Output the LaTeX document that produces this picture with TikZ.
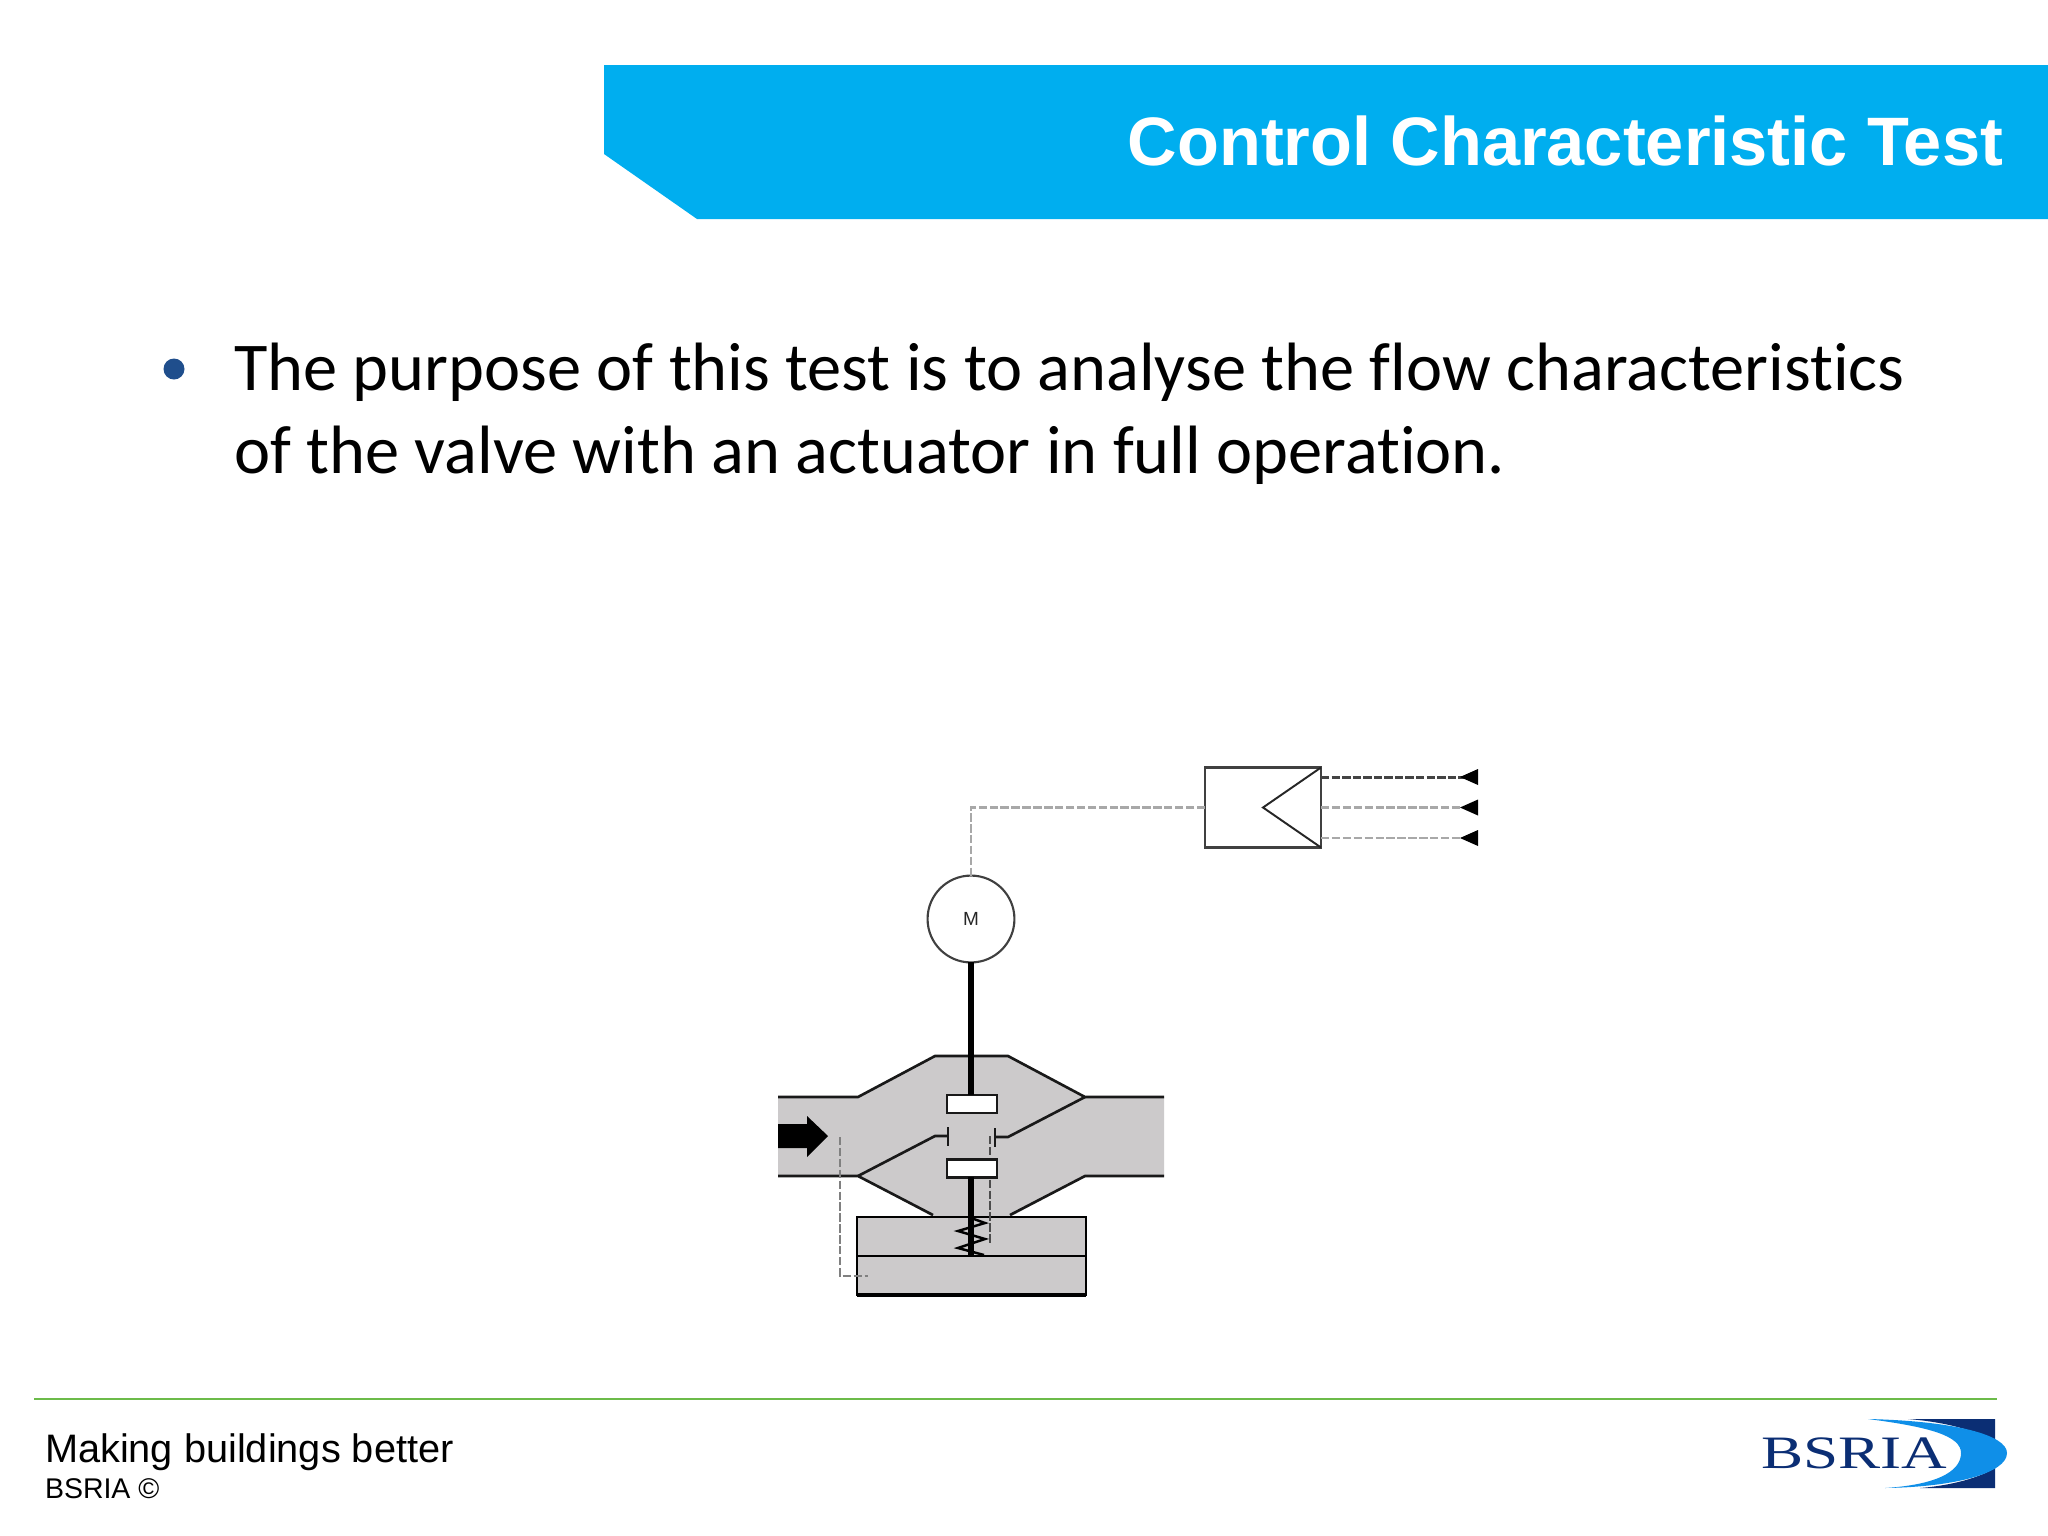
\documentclass[tikz,border=0pt]{standalone}
\usepackage{fontspec}
\setmainfont{Liberation Sans}
\newfontfamily\bodyfont[Ligatures=CommonOff]{Carlito}
\newfontfamily\logofont[FakeStretch=1.36]{Liberation Serif}
\definecolor{headblue}{HTML}{00AEEF}
\definecolor{bulletblue}{HTML}{1F4E8C}
\definecolor{valvegray}{HTML}{CCCACB}
\definecolor{rulegreen}{HTML}{6CBB4A}
\definecolor{navy}{HTML}{0B2E74}
\definecolor{logoblue}{HTML}{0F8FE8}
\definecolor{sigdark}{HTML}{444444}
\definecolor{siggray}{HTML}{A8A8A8}
\tikzset{
  txt/.style={anchor=base west,inner sep=0pt,outer sep=0pt},
  pipeline/.style={draw=black!90,line width=0.75pt,line join=miter},
  sig/.style={draw=siggray,line width=0.7pt,dash pattern=on 2.4pt off 0.7pt},
  sigd/.style={draw=sigdark,line width=0.85pt,dash pattern=on 2.4pt off 0.6pt},
  stem/.style={draw=black,line width=1.5pt},
  disc/.style={draw=black!90,fill=white,line width=0.7pt,minimum width=14.2pt,minimum height=5pt,inner sep=0pt,outer sep=0pt},
  tip/.style={fill=black,draw=none},
}
\begin{document}
\begin{tikzpicture}[x=0.01cm,y=-0.01cm]
\useasboundingbox (0,0) rectangle (2048,1536);
\fill[white] (0,0) rectangle (2048,1536);
% header
\fill[headblue] (604,65) -- (2048,65) -- (2048,219) -- (697,219) -- (604,154) -- cycle;
\node[txt,anchor=base east,text=white] (title) at (2003,165) {\fontsize{19.5}{24}\selectfont\bfseries Control Characteristic Test};
% bullet text
\fill[bulletblue] (174,369) circle (10.5);
\node[txt] (l1) at (234,390.5) {\bodyfont\fontsize{19.45}{22}\selectfont The purpose of this test is to analyse the flow characteristics};
\node[txt] (l2) at (234,473) {\bodyfont\fontsize{19.45}{22}\selectfont of the valve with an actuator in full operation.};
% valve body
\fill[valvegray] (778,1097) -- (858,1097) -- (935,1056) -- (1008,1056) -- (1085,1097) -- (1164,1097) -- (1164,1176) -- (1085,1176) -- (1010,1217) -- (933,1217) -- (858,1176) -- (778,1176) -- cycle;
\fill[valvegray] (857,1217) rectangle (1086,1295);
\draw[pipeline] (778,1097) -- (858,1097) -- (935,1056) -- (1008,1056) -- (1085,1097) -- (1164,1097);
\draw[pipeline] (778,1176) -- (858,1176) -- (933,1215);
\draw[pipeline] (1010,1215) -- (1085,1176) -- (1164,1176);
\draw[pipeline] (858,1176) -- (935,1136) -- (948,1136);
\draw[pipeline] (948,1127) -- (948,1146);
\draw[pipeline] (1085,1097) -- (1008,1137) -- (995,1137);
\draw[pipeline] (995,1128) -- (995,1147);
% actuator box
\draw[draw=black,line width=0.8pt] (857,1217) rectangle (1086,1295);
\draw[draw=black,line width=1.4pt] (857,1295) -- (1086,1295);
\draw[draw=black,line width=0.7pt] (857,1256) -- (1086,1256);
% flow arrow
\fill[black] (778,1124) -- (807,1124) -- (807,1116) -- (828,1136) -- (807,1157) -- (807,1148) -- (778,1148) -- cycle;
% signal lines in valve
\coordinate (sa) at (840,1137);
\coordinate (sb) at (840,1276);
\coordinate (sc) at (868,1276);
\draw[sig,draw=gray] (sa) -- (sb) -- (sc);
\coordinate (sd) at (990,1136);
\coordinate (se) at (990,1245);
\draw[sig,draw=black!70] (sd) -- (se);
% motor
\node[circle,draw=black!75,line width=0.6pt,minimum size=24.7pt,inner sep=0pt,outer sep=0pt] (motor) at (971,919) {\fontsize{5.4}{6}\selectfont\textcolor{black!85}{M}};
% discs and stem
\node[disc] (d1) at (972,1104) {};
\node[disc] (d2) at (972,1168.5) {};
\coordinate (st) at (971,1256);
\draw[stem] (motor.south) -- (motor.south |- d1.north);
\draw[stem] (motor.south |- d2.south) -- (st);
% spring
\draw[draw=black,line width=0.7pt] (971,1218) -- (985,1223) -- (958,1231) -- (985,1239) -- (958,1248) -- (984,1255);
% controller
\node[draw=black!75,line width=0.7pt,minimum width=32.9pt,minimum height=22.7pt,inner sep=0pt,outer sep=0pt] (ctrl) at (1263,807.5) {};
\coordinate (apex) at (ctrl.center);
\draw[draw=black!85,line width=0.55pt] (ctrl.north east) -- (apex) -- (ctrl.south east);
\coordinate (bend) at (motor.north |- ctrl.west);
\draw[sig] (ctrl.west) -- (bend) -- (motor.north);
% inputs
\coordinate (i1) at (1464,777);
\coordinate (i2) at (1464,807.5);
\coordinate (i3) at (1464,838);
\draw[sigd] (1321,777) -- (i1);
\draw[sig] (1321,807.5) -- (i2);
\draw[sig] (1321,838) -- (i3);
\fill[tip] (1460,777) -- (1478,769) -- (1478,785) -- cycle;
\fill[tip] (1460,807.5) -- (1478,799.5) -- (1478,815.5) -- cycle;
\fill[tip] (1460,838) -- (1478,830) -- (1478,846) -- cycle;
% footer
\draw[rulegreen,line width=0.7pt] (34,1399) -- (1997,1399);
\node[txt] (f1) at (45,1462) {\fontsize{11.3}{13}\selectfont Making buildings better};
\node[txt] (f2) at (45,1498) {\fontsize{8.1}{10}\selectfont BSRIA ©};
% logo
\fill[navy] (1908,1419) -- (1995,1419) -- (1995,1442) .. controls (1975,1430) and (1945,1422) .. cycle;
\fill[navy] (1920,1488) -- (1995,1488) -- (1995,1468) .. controls (1975,1480) and (1945,1486) .. cycle;
\fill[logoblue] (1868,1419) .. controls (1955,1421) and (2007,1435) .. (2007,1453) .. controls (2007,1473) and (1955,1487) .. (1885,1488) .. controls (1933,1485) and (1961,1473) .. (1961,1453) .. controls (1961,1436) and (1930,1427) .. cycle;
\node[txt,text=navy] (logo) at (1761,1468) {\logofont\fontsize{13.2}{15}\selectfont BSRIA};
\end{tikzpicture}
\end{document}
